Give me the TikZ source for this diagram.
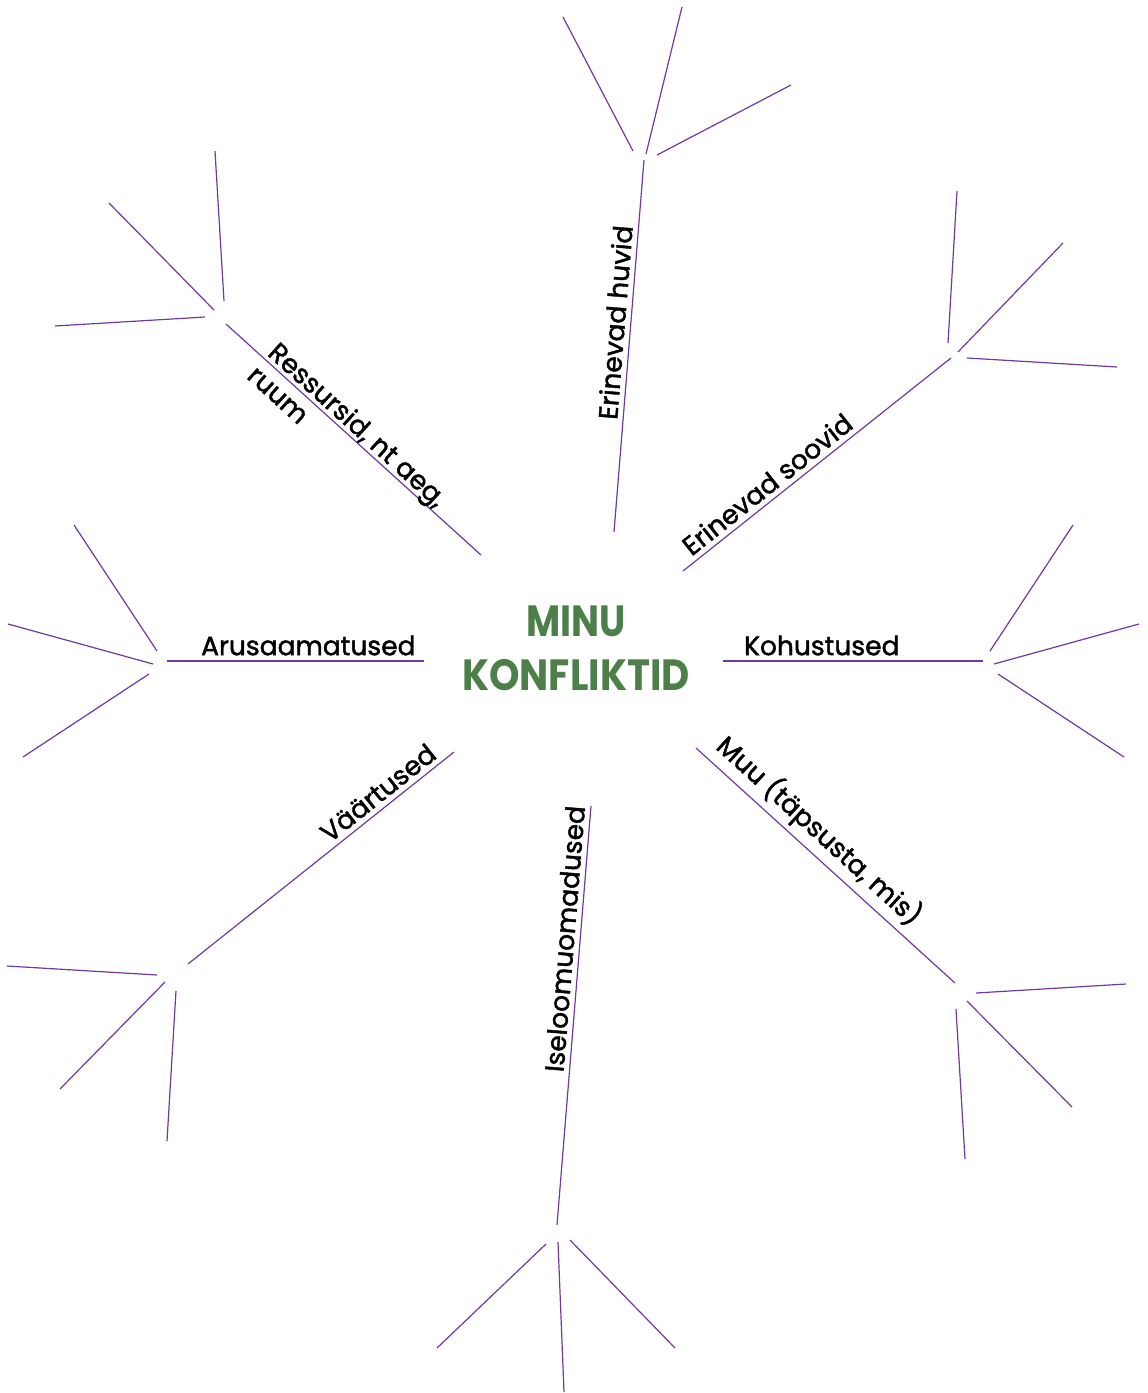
\documentclass[tikz,border=0pt]{standalone}
\usepackage{fontspec}
\setmainfont{Poppins}
\newfontfamily\lblfont{Poppins}[FakeBold=1.6]
\definecolor{spokecol}{RGB}{112,56,160}
\definecolor{titlecol}{RGB}{76,128,72}
\tikzset{
  spokeline/.style={draw=spokecol, line width=1.2pt},
  lbl/.style={font=\lblfont\fontsize{26.5}{31}\selectfont, inner sep=5pt, text=black},
}
\begin{document}
\begin{tikzpicture}[x=1pt,y=-1pt]
\useasboundingbox (0,0) rectangle (1148,1393);
% --- coordinates ---
% A: Erinevad huvid
\coordinate (a0) at (614,532); \coordinate (a1) at (644,160);
\coordinate (a2s) at (633,151); \coordinate (a2e) at (563,17);
\coordinate (a3s) at (646,154); \coordinate (a3e) at (682,7);
\coordinate (a4s) at (657,155); \coordinate (a4e) at (791,85);
% B: Erinevad soovid
\coordinate (b0) at (683,571); \coordinate (b1) at (951,358);
\coordinate (b2s) at (948,343); \coordinate (b2e) at (957,191);
\coordinate (b3s) at (958,352); \coordinate (b3e) at (1063,243);
\coordinate (b4s) at (967,358); \coordinate (b4e) at (1117,367);
% C: Kohustused
\coordinate (c0) at (723,661); \coordinate (c1) at (983,661);
\coordinate (c2s) at (990,651); \coordinate (c2e) at (1073,525);
\coordinate (c3s) at (994,664); \coordinate (c3e) at (1139,624);
\coordinate (c4s) at (998,674); \coordinate (c4e) at (1124,757);
% D: Muu
\coordinate (d0) at (696,748); \coordinate (d1) at (955,983);
\coordinate (d2s) at (976,993); \coordinate (d2e) at (1126,984);
\coordinate (d3s) at (967,1001); \coordinate (d3e) at (1072,1107);
\coordinate (d4s) at (956,1009); \coordinate (d4e) at (965,1159);
% E: Iseloomuomadused
\coordinate (e0) at (591,806); \coordinate (e1) at (557,1225);
\coordinate (e2s) at (546,1244); \coordinate (e2e) at (437,1348);
\coordinate (e3s) at (558,1242); \coordinate (e3e) at (564,1392);
\coordinate (e4s) at (570,1240); \coordinate (e4e) at (675,1348);
% F: Vaartused
\coordinate (f0) at (454,752); \coordinate (f1) at (188,964);
\coordinate (f2s) at (157,975); \coordinate (f2e) at (7,966);
\coordinate (f3s) at (165,982); \coordinate (f3e) at (60,1089);
\coordinate (f4s) at (176,991); \coordinate (f4e) at (167,1141);
% G: Arusaamatused
\coordinate (g0) at (424,661); \coordinate (g1) at (167,661);
\coordinate (g2s) at (157,651); \coordinate (g2e) at (74,525);
\coordinate (g3s) at (153,664); \coordinate (g3e) at (8,624);
\coordinate (g4s) at (149,674); \coordinate (g4e) at (23,757);
% H: Ressursid
\coordinate (h0) at (481,555); \coordinate (h1) at (226,324);
\coordinate (h2s) at (224,301); \coordinate (h2e) at (215,151);
\coordinate (h3s) at (214,310); \coordinate (h3e) at (109,203);
\coordinate (h4s) at (205,317); \coordinate (h4e) at (55,326);

% --- title ---
\node[text=titlecol, font=\bfseries\fontsize{38}{54}\selectfont, align=center] (title) at (576,648)
  {\scalebox{0.98}[1.15]{MINU}\\\scalebox{1.02}[1.15]{KONFLIKTID}};

% --- spokes with labels ---
\draw[spokeline] (a0) -- (a1) node[lbl, sloped, above, pos=0.56] (lhuvid) {Erinevad huvid};
\draw[spokeline] (b0) -- (b1) node[lbl, sloped, above, pos=0.35] (lsoovid) {Erinevad soovid};
\draw[spokeline] (c0) -- (c1) node[lbl, sloped, above, pos=0.38] (lkoh) {Kohustused};
\draw[spokeline] (d0) -- (d1) node[lbl, sloped, above, pos=0.42] (lmuu) {Muu (täpsusta, mis)};
\draw[spokeline] (e1) -- (e0) node[lbl, sloped, above, pos=0.68] (liseloom) {Iseloomuomadused};
\draw[spokeline] (f1) -- (f0) node[lbl, sloped, above, pos=0.75] (lvaart) {Väärtused};
\draw[spokeline] (g1) -- (g0) node[lbl, sloped, above, pos=0.55] (larus) {Arusaamatused};
\draw[spokeline] (h1) -- (h0) node[lbl, sloped, pos=0.48, align=left, inner sep=0pt, yshift=-1pt] (lress) {Ressursid, nt aeg,\\ruum};

% --- twigs ---
\foreach \s in {a,b,c,d,e,f,g,h}{
  \foreach \k in {2,3,4}{
    \draw[spokeline] (\s\k s) -- (\s\k e);
  }
}
\end{tikzpicture}
\end{document}
